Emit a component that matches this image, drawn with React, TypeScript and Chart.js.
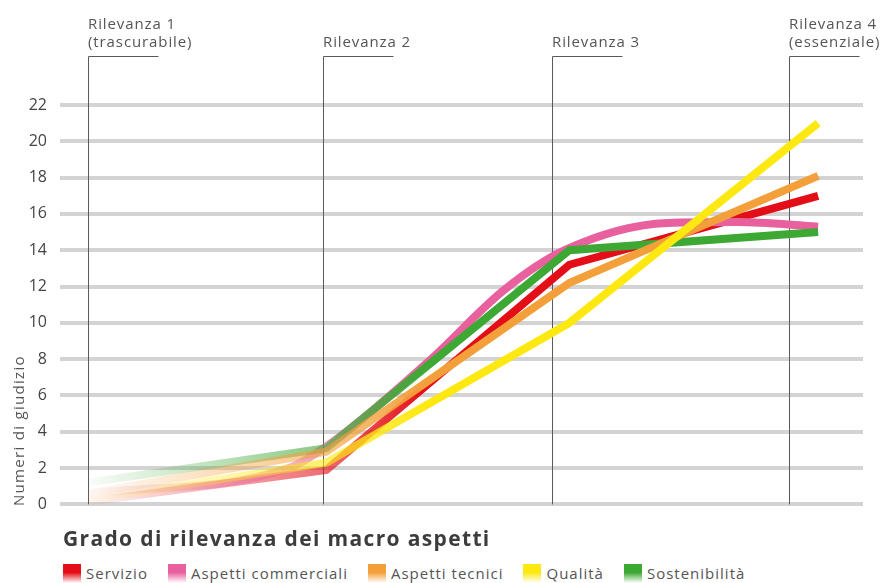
import React, { useEffect, useRef } from "react";
import { Chart, registerables } from "chart.js";

Chart.register(...registerables);

// ---- data ----
const seriesNames = ["Servizio", "Aspetti commerciali", "Aspetti tecnici", "Qualità", "Sostenibilità"];
const seriesColors = ["227,14,23", "232,96,158", "244,160,58", "253,232,17", "62,168,53"];
const stageX = [1, 2.02, 3.06, 4.125];
const servizio = [0.15, 1.9, 13.2, 17.0];
const tecnici = [0.6, 2.9, 12.2, 18.1];
const qualita = [0.25, 2.3, 10.0, 21.0];
const sostenibilita = [1.2, 3.1, 14.0, 15.0];
const commercialiX = [1, 1.86, 2.02, 2.46, 2.78, 3.04, 3.48, 3.78, 4.125];
const commerciali = [0.6, 2.0, 3.2, 7.9, 11.8, 14.0, 15.5, 15.55, 15.3];
const drawOrder = [4, 3, 1, 0, 2];

const relevanceX = [1, 2.005, 2.985, 4];
const relevanceLabels = [
  ["Rilevanza 1", "(trascurabile)"],
  ["Rilevanza 2"],
  ["Rilevanza 3"],
  ["Rilevanza 4", "(essenziale)"],
];
const yTicks = { min: 0, max: 22, step: 2 };
const yTitle = "Numeri di giudizio";
const chartTitle = "Grado di rilevanza dei macro aspetti";

const FONT = '"Open Sans", "Noto Sans", sans-serif';

function pts(xs: number[], ys: number[]) {
  return ys.map((y, i) => ({ x: xs[i], y }));
}

const seriesData = [
  pts(stageX, servizio),
  pts(commercialiX, commerciali),
  pts(stageX, tecnici),
  pts(stageX, qualita),
  pts(stageX, sostenibilita),
];

function fadeColor(rgb: string) {
  return (ctx: any) => {
    const chart = ctx.chart;
    const area = chart.chartArea;
    const xs = chart.scales && chart.scales.x;
    if (!area || !xs) return `rgb(${rgb})`;
    const x0 = xs.getPixelForValue(1);
    const x1 = xs.getPixelForValue(2);
    const x2 = xs.getPixelForValue(2.45);
    const g = chart.ctx.createLinearGradient(x0, 0, x2, 0);
    g.addColorStop(0, `rgba(${rgb},0.03)`);
    g.addColorStop((x1 - x0) / (x2 - x0), `rgba(${rgb},0.6)`);
    g.addColorStop(1, `rgba(${rgb},1)`);
    return g;
  };
}

const overlayPlugin = {
  id: "overlay",
  beforeDatasetsDraw(chart: any) {
    const { ctx, chartArea, scales } = chart;
    ctx.save();
    ctx.strokeStyle = "#5a5a5a";
    ctx.lineWidth = 1;
    const topY = 56.5;
    relevanceX.forEach((v) => {
      const x = Math.round(scales.x.getPixelForValue(v)) + 0.5;
      ctx.beginPath();
      ctx.moveTo(x, chartArea.bottom);
      ctx.lineTo(x, topY);
      ctx.lineTo(x + 70, topY);
      ctx.stroke();
    });
    ctx.restore();
  },
  afterDraw(chart: any) {
    const { ctx, scales } = chart;
    ctx.save();
    ctx.fillStyle = "#555";
    ctx.font = `15px ${FONT}`;
    (ctx as any).letterSpacing = "0.9px";
    ctx.textAlign = "left";
    ctx.textBaseline = "alphabetic";
    relevanceX.forEach((v, i) => {
      const x = Math.round(scales.x.getPixelForValue(v));
      const lines = relevanceLabels[i];
      lines.forEach((t, j) => {
        const y = 47 - (lines.length - 1 - j) * 18;
        ctx.fillText(t, x, y);
      });
    });
    ctx.translate(24, 506);
    ctx.rotate(-Math.PI / 2);
    ctx.font = `15px ${FONT}`;
    (ctx as any).letterSpacing = "1.3px";
    ctx.fillText(yTitle, 0, 0);
    ctx.restore();
  },
};

export default function App() {
  const ref = useRef<HTMLCanvasElement>(null);
  useEffect(() => {
    if (!ref.current) return;
    const chart = new Chart(ref.current, {
      type: "line",
      data: {
        datasets: seriesNames.map((name, i) => ({
          label: name,
          data: seriesData[i],
          borderColor: fadeColor(seriesColors[i]),
          backgroundColor: `rgb(${seriesColors[i]})`,
          borderWidth: 8,
          pointRadius: 0,
          pointHoverRadius: 0,
          borderJoinStyle: "miter",
          borderCapStyle: "butt",
          fill: false,
          order: drawOrder[i],
          cubicInterpolationMode: i === 1 ? "monotone" : "default",
          tension: 0,
        })),
      },
      options: {
        animation: false,
        responsive: true,
        maintainAspectRatio: false,
        devicePixelRatio: 1,
        layout: { padding: { top: 105, right: 20, bottom: 0, left: 0 } },
        plugins: { legend: { display: false }, tooltip: { enabled: false }, title: { display: false } },
        events: [],
        scales: {
          x: { type: "linear", min: 0.88, max: 4.317, display: false },
          y: {
            min: yTicks.min,
            max: yTicks.max,
            ticks: { stepSize: yTicks.step, color: "#444", font: { family: FONT, size: 16 }, padding: 13 },
            grid: { color: "#d3d3d3", lineWidth: 4, drawTicks: false },
            border: { display: false },
            afterFit: (s: any) => {
              s.width = 60;
            },
          },
        },
      },
      plugins: [overlayPlugin],
    } as any);
    return () => chart.destroy();
  }, []);

  return (
    <div style={{ position: "absolute", left: 0, top: 0, width: 883, height: 583, background: "#fff", overflow: "hidden", fontFamily: FONT }}>
      <div style={{ position: "absolute", left: 0, top: 0, width: 883, height: 527 }}>
        <canvas ref={ref} />
      </div>
      <div style={{ position: "absolute", left: 63, top: 524, fontSize: 21, fontWeight: 700, color: "#3c3c3c", whiteSpace: "nowrap", letterSpacing: 1.35 }}>
        {chartTitle}
      </div>
      <div style={{ position: "absolute", left: 63, top: 564, display: "flex", gap: 20, alignItems: "flex-end", whiteSpace: "nowrap" }}>
        {seriesNames.map((name, i) => (
          <div key={name} style={{ display: "flex", alignItems: "flex-end" }}>
            <span style={{ display: "inline-block", width: 18, height: 19, background: `linear-gradient(to bottom, rgb(${seriesColors[i]}) 0%, rgb(${seriesColors[i]}) 45%, #fff 100%)` }} />
            <span style={{ marginLeft: 5, fontSize: 15, color: "#555", lineHeight: "19px", letterSpacing: 1 }}>{name}</span>
          </div>
        ))}
      </div>
    </div>
  );
}
